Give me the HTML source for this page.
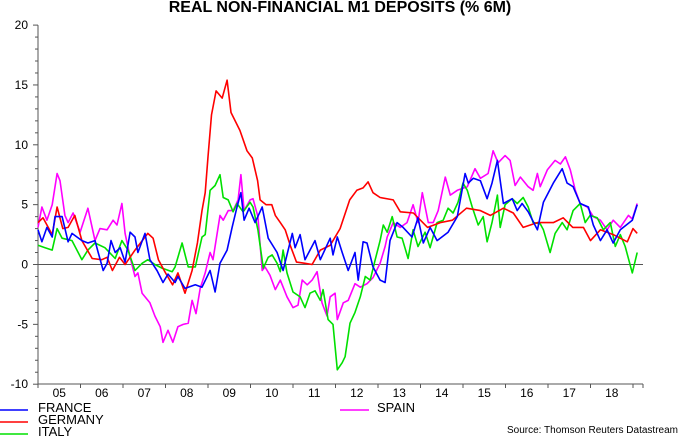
<!DOCTYPE html>
<html><head><meta charset="utf-8"><style>
body{margin:0;background:#fff;}
svg{display:block;font-family:"Liberation Sans",Arial,sans-serif;}
</style></head><body>
<svg id="chart" width="680" height="436" viewBox="0 0 680 436" xmlns="http://www.w3.org/2000/svg">
<rect width="680" height="436" fill="#fff"/>
<text x="340" y="12" text-anchor="middle" font-size="16" font-weight="bold">REAL NON-FINANCIAL M1 DEPOSITS (% 6M)</text>
<g id="axes"></g>
<g id="series"></g>
<g>
<line x1="0" y1="410" x2="28" y2="410" stroke="#0000ff" stroke-width="1.5"/>
<text x="38" y="412" font-size="13">FRANCE</text>
<line x1="0" y1="422" x2="28" y2="422" stroke="#ff0000" stroke-width="1.5"/>
<text x="38" y="424" font-size="13">GERMANY</text>
<line x1="0" y1="434" x2="28" y2="434" stroke="#00e000" stroke-width="1.5"/>
<text x="38" y="436" font-size="13">ITALY</text>
<line x1="340" y1="410" x2="369" y2="410" stroke="#ff00ff" stroke-width="1.5"/>
<text x="377" y="412" font-size="13">SPAIN</text>
</g>
<text x="678" y="433" text-anchor="end" font-size="10">Source: Thomson Reuters Datastream</text>
</svg>
<script>
const yTicks=[20,15,10,5,0,-5,-10];
const yearLabels=["05","06","07","08","09","10","11","12","13","14","15","16","17","18"];
const frMonths=[0,1.1,2.5,4,4.8,6.8,8.5,9.6,12.4,14.1,16.1,17,18.4,19.5,20.6,21.8,23.2,24.6,26,27.4,28.2,30.2,31.6,33.6,35.3,36.7,38.7,39.5,41.5,44.4,46.3,48.6,50,51.4,53.4,54.8,56.2,57.3,58.2,59.6,61.3,63.3,65,67.5,69.2,71.8,72.6,74,75.4,78.2,79.7,82.5,83.3,84.5,85.9,87.6,89.5,90.4,91.8,92.9,94.6,96.6,98,99.4,101.4,103.1,105.6,107.3,108.8,110.7,112.7,115.8,118.4,120.6,121.5,122.9,124.9,126.8,128.2,129.7,131.4,133.9,135.3,136.7,138.4,141,142.7,145.5,148,149.4,151.1,153.1,155.4,156.8,158.8,160.7,162.4,164.4,167.8,169.2];
const frValues=[2.9,1.9,3.1,2.3,4,4,1.9,2.6,2,1.8,2,1,-0.5,0.1,2,1,1.4,0.2,2.7,2.3,1,2.6,0.4,-0.5,-1.5,-0.8,-1.5,-1,-2,-1.7,-1.9,-0.5,-2.3,0.1,1.2,3.1,4.8,6,3.7,4.7,3.5,4.8,2.2,1,-0.5,2.6,1.4,2.5,0.4,2,0.4,2.2,0.8,2.3,1,-0.5,1,-1.3,1.9,1.8,-0.2,-1.3,-1.5,2,3.5,3.1,2.3,3.9,1.8,3.1,2,2.7,4,7.6,6.8,7.2,7,5.5,6.8,8.7,5.1,5.5,4.5,5.1,4.4,2.9,5.2,6.8,8,6.8,6.5,5.1,4.8,3.3,2,2.9,1.8,2.9,3.7,5];
const deMonths=[0,1.4,4,5.4,7,8.5,10.4,12.4,15.3,18,19.5,21,23,24.6,27.4,31,32.5,34,36,38,39.5,41.5,43.5,45,46.3,47.2,48,49,50.3,52,53.4,54.5,57,59,60.5,62,62.7,64.4,66,67,68.4,69.8,71.2,73,75.4,77.4,79.7,82.5,85.3,88,90,91.8,93.2,94.6,96.6,100.3,102.3,106,110,113.6,117,121,124.9,127.7,131.4,134.2,137,141,145.5,148.3,151,154,156,158.8,162.4,166.4,168,169.2];
const deValues=[3.5,3.9,2.5,4.8,3,3.1,4.1,2,0.5,0.4,0.6,-0.5,0.6,0,1.2,2.6,2.2,0.4,-0.7,-1.7,-0.7,-2.4,-0.5,1.8,4.5,6,9,12.5,14.5,13.9,15.4,12.7,11.2,9.5,8.9,7,5.4,5,5,4.1,3.5,2.9,1.6,0.2,0.1,0,1.2,1.6,3,5.4,6.2,6.4,6.9,6,5.6,5.4,4.4,4.3,3.1,3.5,3.7,4.7,4.5,4.1,4.7,4.3,3.1,3.5,3.5,3.9,3.1,3.1,2,2.9,2.5,1.9,3,2.6];
const itMonths=[0,2,4,5.4,6.8,9.6,12.4,14.1,16.1,18.9,21.8,23.7,25.4,27.4,29.4,31,33,35,37.9,38.7,40.7,42.4,44.4,46.3,47.2,48.6,50,51.4,52.3,53.7,55.1,56.2,57.9,59.9,60.7,62.1,63.6,65,66.1,67.5,68.4,69.2,70.3,72,74,75.4,76.8,78.2,79.7,80.5,81.9,83.3,84.5,85.9,86.7,88.1,89.5,91,92.4,93.8,95.2,96.6,97.5,98.6,100,101.4,102.8,104.5,105.9,107.3,109.3,110.7,112.7,114.4,115.8,117.2,118.6,120,121.2,122.6,124.3,125.7,126.8,128.2,129.7,130.5,131.9,133.9,135.3,137,138.4,139.8,141.8,142.7,144.6,146,148,149.4,151.1,153.1,154.5,155.9,157.9,159.6,161.6,163,164.4,165.8,167.8,169.2];
const itValues=[1.6,1.4,1.2,3,2.2,2,0.4,1.2,1.8,1.4,0.5,2,1.2,-0.5,0.1,0.4,0,-0.3,-0.6,-0.2,1.8,-0.2,-0.2,2.3,2.5,6.2,6.6,7.5,5.6,5.4,4.4,5.1,4.4,5.2,4.8,2.9,-0.3,0.6,0.8,0.1,-0.6,1.2,-0.7,-2.3,-2.7,-3.6,-2.4,-2.2,-3,-2.1,-4.6,-5,-8.8,-8.2,-7.7,-4.9,-4,-2.7,-1,-1.3,0.4,2,3.3,2.7,4,2.3,2.2,0.5,2.9,1.5,2.7,1.4,3.5,3.7,4.7,4.3,5.2,6.8,6.2,4.8,3.3,4,1.9,3.5,5.8,3.1,5,5.5,5.1,5.6,4.8,3.5,3.4,2.9,1,2.6,3.5,2.9,4.5,5.1,3.5,4.1,3.9,2.9,3.5,1.5,2.5,1.5,-0.7,1];
const esMonths=[0,1.1,2.5,4,5.4,6.2,7.6,8.5,9.9,11.9,14.1,16.1,17.5,19.5,21.2,22.3,23.7,24.6,26,27.4,28.2,29.4,31.6,33,34.5,35.3,36.7,38.1,39.5,41,42.4,43.5,44.6,45.8,47.2,48.6,49.4,51.4,52.3,53.7,55.1,56.5,57.3,58.2,59.9,60.7,62.1,63.3,64.1,65.5,67,68.4,70.3,72,73.4,74.6,76,77.4,78.8,80.2,81.6,82.5,83.9,84.5,86.2,87.6,89.5,91,92.9,94.6,96.6,98,98.6,100.3,102.3,104.2,105.9,107.3,108.5,110.2,111.6,113,115,116.4,118.4,121.2,123.4,124.9,127.1,128.5,129.9,131.9,133.3,134.7,136.2,138.4,139.8,141,141.8,143.8,146,147.5,148.9,150.3,151.7,153.1,155.1,156.8,158.8,160.7,162.4,164.4,166.7,167.8,169.2];
const esValues=[3.1,4.8,3.7,5,7.6,7,4.1,3.5,4.3,2.7,4.7,2,3,2.9,3.7,3.3,5.1,2.6,0.6,-1,-0.7,-2.4,-3.2,-4.3,-5.2,-6.5,-5.5,-6.5,-5.2,-5,-4.9,-3,-4.1,-2,-0.7,1,0.4,4.1,3.7,4.5,4.5,5.4,7.5,4.5,5.4,5.5,4,-0.5,-0.2,-0.9,-2.1,-1.3,-2.7,-3.6,-3.4,-1.3,-1.7,-1.3,-0.6,-3.2,-4.3,-2.7,-2.4,-4.6,-3.2,-3,-1.6,-1.9,-1.6,-1.1,0.1,1.5,2.3,3.5,3.1,3.5,5,3.5,6,3.5,3.5,4.5,7.3,5.8,6.2,6.5,8,7.2,7.6,9.5,8.5,9.1,8.7,6.6,7.3,6.5,6.2,7.6,6.5,7.9,8.7,8.4,9,7.9,6.2,5.1,4.8,4,3.7,2.9,3.7,3.1,4.1,3.8,5.1];

const X0=38,MONTH_W=42.5/12,Y0=264.5,UNIT=11.97,AX_R=643,Y_BOT=384;
const xs=m=>X0+m*MONTH_W;
const ys=v=>Y0-v*UNIT;
const NS="http://www.w3.org/2000/svg";
const axes=document.getElementById('axes'),ser=document.getElementById('series');
function mk(tag,attrs,parent){const e=document.createElementNS(NS,tag);for(const k in attrs)e.setAttribute(k,attrs[k]);parent.appendChild(e);return e;}
let z=mk('line',{x1:X0,y1:ys(0),x2:AX_R,y2:ys(0),stroke:'#555','stroke-width':1},axes);


let ya=mk('line',{x1:X0,y1:ys(20),x2:X0,y2:Y_BOT,stroke:'#555','stroke-width':1},axes);


for(let v=-10;v<=20;v++){
  const t=mk('line',{x1:X0-(v%5===0?5:3),y1:ys(v),x2:X0,y2:ys(v),stroke:'#555','stroke-width':1},axes);
  
  
}
yTicks.forEach(v=>{
  const t=mk('text',{x:28,y:ys(v)+4,'text-anchor':'end','font-size':12},axes);
  t.textContent=v;
  
  
});
let xa=mk('line',{x1:X0,y1:Y_BOT,x2:AX_R,y2:Y_BOT,stroke:'#555','stroke-width':1},axes);


for(let i=0;i<=yearLabels.length;i++){
  const t=mk('line',{x1:xs(i*12),y1:Y_BOT,x2:xs(i*12),y2:Y_BOT+4,stroke:'#555','stroke-width':1},axes);
  
  
}
let et=mk('line',{x1:AX_R,y1:Y_BOT,x2:AX_R,y2:Y_BOT+4,stroke:'#555','stroke-width':1},axes);


yearLabels.forEach((l,i)=>{
  const t=mk('text',{x:xs(i*12+6),y:397,'text-anchor':'middle','font-size':12},axes);
  t.textContent=l;
  
  
});
function line(ms,vs,color,name){
  const d=ms.map((m,i)=>(i?'L':'M')+xs(m).toFixed(1)+','+ys(vs[i]).toFixed(1)).join('');
  const p=mk('path',{d:d,fill:'none',stroke:color,'stroke-width':1.6,'stroke-linejoin':'round'},ser);
  
  
}
line(esMonths,esValues,'#ff00ff','series-spain');
line(itMonths,itValues,'#00e000','series-italy');
line(deMonths,deValues,'#ff0000','series-germany');
line(frMonths,frValues,'#0000ff','series-france');
</script>
</body></html>
